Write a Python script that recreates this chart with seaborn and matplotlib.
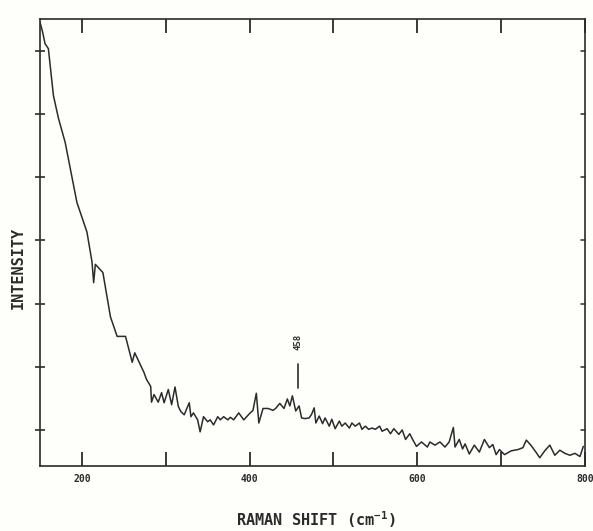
import numpy as np
import pandas as pd
import matplotlib
matplotlib.use("Agg")
import matplotlib.pyplot as plt
import seaborn as sns

# Raman shift (cm^-1) and relative intensity (arbitrary units)
raman_shift = [
    150, 153, 156, 160, 166, 172, 180, 194, 206, 212, 214, 216, 225, 234, 242,
    252, 260, 263, 274, 277, 282, 283, 286, 291, 295, 298, 303, 307, 311, 315,
    318, 322, 328, 330, 333, 338, 341, 345, 350, 353, 357, 362, 365, 369, 374,
    377, 381, 387, 393, 400, 404, 408, 411, 416, 422, 428, 431, 436, 441, 445,
    448, 451, 455, 459, 462, 466, 471, 474, 477, 479, 483, 487, 490, 495, 498,
    502, 507, 510, 514, 519, 522, 526, 531, 534, 538, 542, 546, 550, 555, 558,
    564, 568, 572, 578, 582, 586, 591, 594, 599, 605, 612, 615, 621, 627, 633,
    638, 643, 645, 650, 654, 657, 662, 668, 674, 680, 686, 690, 694, 698, 704,
    712, 720, 726, 730, 736, 742, 746, 752, 758, 764, 770, 776, 782, 788, 794,
    798,
]
intensity = [
    7.45, 7.30, 7.11, 7.03, 6.29, 5.93, 5.55, 4.60, 4.13, 3.66, 3.33, 3.62, 3.49, 2.79, 2.48,
    2.48, 2.07, 2.22, 1.91, 1.80, 1.69, 1.44, 1.56, 1.44, 1.59, 1.43, 1.64, 1.40, 1.68, 1.37,
    1.29, 1.24, 1.43, 1.21, 1.27, 1.16, 0.97, 1.21, 1.13, 1.16, 1.08, 1.21, 1.16, 1.21, 1.16,
    1.20, 1.16, 1.27, 1.16, 1.26, 1.31, 1.58, 1.11, 1.34, 1.34, 1.31, 1.34, 1.42, 1.34, 1.49,
    1.38, 1.54, 1.30, 1.38, 1.19, 1.18, 1.19, 1.25, 1.35, 1.11, 1.22, 1.10, 1.19, 1.06, 1.17,
    1.02, 1.14, 1.06, 1.11, 1.03, 1.11, 1.06, 1.11, 1.01, 1.06, 1.01, 1.03, 1.01, 1.06, 0.98,
    1.02, 0.94, 1.02, 0.93, 1.00, 0.85, 0.94, 0.86, 0.74, 0.81, 0.73, 0.81, 0.76, 0.81, 0.73,
    0.81, 1.04, 0.73, 0.85, 0.70, 0.78, 0.62, 0.76, 0.65, 0.85, 0.72, 0.77, 0.61, 0.69, 0.61,
    0.67, 0.69, 0.72, 0.84, 0.75, 0.64, 0.56, 0.67, 0.76, 0.60, 0.68, 0.63, 0.60, 0.63, 0.58,
    0.74,
]

x_ticks = [200, 300, 400, 500, 600, 700, 800]
x_tick_labels = ["200", "", "400", "", "600", "", "800"]
y_ticks = [1, 2, 3, 4, 5, 6, 7]

peak_position = 458
peak_label = "458"
peak_marker = [1.67, 2.04]

x_label = "RAMAN SHIFT (cm$^{\\mathregular{-1}}$)"
y_label = "INTENSITY"

sns.set_style("ticks")
plt.rcParams["font.family"] = ["DejaVu Sans Mono", "DejaVu Sans"]
plt.rcParams["mathtext.default"] = "regular"

ink = "#2b2b2b"

fig = plt.figure(figsize=(5.93, 5.31), dpi=100)
fig.patch.set_facecolor("#fefefb")
ax = fig.add_axes([40 / 593, 1 - 466 / 531, 545 / 593, 447 / 531])
ax.set_facecolor("#fefefb")

spectrum = pd.DataFrame({"shift": raman_shift, "intensity": intensity})
sns.lineplot(data=spectrum, x="shift", y="intensity", ax=ax,
             color=ink, linewidth=1.1, estimator=None, sort=False)

ax.set_xlim(150, 800)
ax.set_ylim(0.43, 7.5)

for side in ["left", "right", "top", "bottom"]:
    ax.spines[side].set_visible(True)
    ax.spines[side].set_color(ink)
    ax.spines[side].set_linewidth(1.2)

ax.set_xticks(x_ticks)
ax.set_xticklabels(x_tick_labels, fontweight="bold")
ax.set_yticks(y_ticks)
ax.set_yticklabels([])
ax.tick_params(axis="x", which="major", direction="in", length=10, width=1.3,
               color=ink, top=True, bottom=True, labelsize=7, labelcolor=ink, pad=6)
ax.tick_params(axis="y", which="major", direction="inout", length=7, width=1.2,
               color=ink, left=True, right=False)
ax.set_xlabel("")
ax.set_ylabel("")

# short inward ticks on the right-hand frame
for yt in y_ticks:
    ax.plot([0.993, 1.0], [yt, yt], transform=ax.get_yaxis_transform(),
            color=ink, linewidth=1.1, clip_on=False)

# peak marker with its label
ax.plot([peak_position, peak_position], peak_marker, color=ink, linewidth=1.2)
ax.text(peak_position, peak_marker[1] + 0.22, peak_label, rotation=90,
        ha="center", va="bottom", fontsize=6.5, fontweight="bold", color=ink)

fig.text(316 / 593, 1 - 520 / 531, x_label, ha="center", va="center",
         fontsize=11, fontweight="bold", color=ink)
fig.text(18 / 593, 1 - 268 / 531, y_label, ha="center", va="center",
         rotation=90, fontsize=11, fontweight="bold", color=ink)

fig.savefig("out.png", dpi=100, facecolor=fig.get_facecolor())
